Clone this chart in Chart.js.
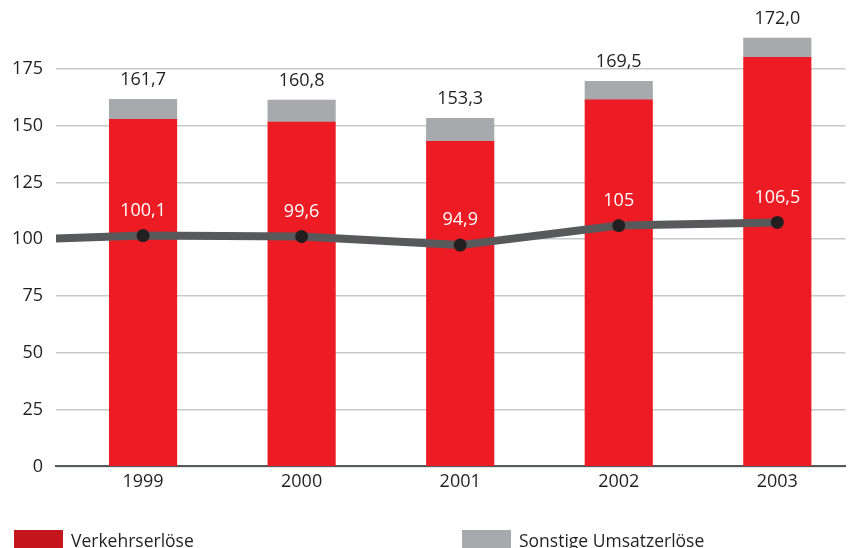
<!DOCTYPE html>
<html lang="de">
<head>
    <meta charset="UTF-8">
    <title>Umsatzerlöse 1999–2003</title>
    <script src="https://cdn.jsdelivr.net/npm/chart.js"></script>
    <style>
        body {
            margin: 0;
            background: #fff;
            font-family: 'Open Sans', sans-serif;
            color: #231f20;
        }
        .wrap {
            position: relative;
            width: 852px;
            height: 548px;
            overflow: hidden;
        }
        .legend-item {
            position: absolute;
            top: 530px;
            font-size: 17.5px;
            line-height: 20px;
            white-space: nowrap;
        }
        .legend-item span {
            display: inline-block;
            width: 49px;
            height: 20px;
            vertical-align: top;
            margin-right: 8px;
        }
    </style>
</head>
<body>
    <div class="wrap">
        <canvas id="umsatzChart"></canvas>
        <div class="legend-item" style="left:14px"><span style="background:#c4161c"></span>Verkehrserlöse</div>
        <div class="legend-item" style="left:462px"><span style="background:#a7a9ac"></span>Sonstige Umsatzerlöse</div>
    </div>

    <script>
        // Werte
        const years = ['1999', '2000', '2001', '2002', '2003'];
        const verkehrserloese = [152.8, 151.5, 143.1, 161.3, 180.1];
        const sonstigeErloese = [8.8, 9.7, 10.1, 8.2, 8.4];
        const totalLabels = ['161,7', '160,8', '153,3', '169,5', '172,0'];
        const indexValues = [101.6, 101.2, 97.4, 106.0, 107.4];
        const indexLabels = ['100,1', '99,6', '94,9', '105', '106,5'];
        const indexStart = 100.3;   // Linie beginnt am linken Achsenrand
        const yMax = 200;
        const yLastTick = 175;
        const xMin = -0.549;
        const xMax = 4.43;

        const barData = vals => vals.map((v, i) => ({ x: i, y: v }));
        const lineData = [{ x: xMin, y: indexStart }].concat(indexValues.map((v, i) => ({ x: i, y: v })));

        const labelPlugin = {
            id: 'labels',
            afterDatasetsDraw(chart) {
                const ctx = chart.ctx;
                ctx.save();
                ctx.font = '18px "Open Sans", sans-serif';
                ctx.textAlign = 'center';
                ctx.textBaseline = 'middle';
                const top = chart.getDatasetMeta(2);
                ctx.fillStyle = '#231f20';
                top.data.forEach((bar, i) => ctx.fillText(totalLabels[i], bar.x, bar.y - 19));
                const line = chart.getDatasetMeta(0);
                ctx.fillStyle = '#ffffff';
                indexLabels.forEach((t, i) => {
                    const p = line.data[i + 1];
                    ctx.fillText(t, p.x, p.y - 25);
                });
                ctx.restore();
            }
        };

        const ctx = document.getElementById('umsatzChart').getContext('2d');
        new Chart(ctx, {
            data: {
                datasets: [
                    {
                        type: 'line',
                        label: 'Index',
                        data: lineData,
                        stack: 'index',
                        borderColor: '#58595b',
                        borderWidth: 8,
                        borderCapStyle: 'round',
                        borderJoinStyle: 'round',
                        tension: 0,
                        pointRadius: lineData.map((_, i) => i === 0 ? 0 : 6.5),
                        pointBackgroundColor: '#231f20',
                        pointBorderWidth: 0,
                        order: 0
                    },
                    {
                        type: 'bar',
                        label: 'Verkehrserlöse',
                        data: barData(verkehrserloese),
                        backgroundColor: '#ed1c24',
                        barThickness: 67.5,
                        order: 1
                    },
                    {
                        type: 'bar',
                        label: 'Sonstige Umsatzerlöse',
                        data: barData(sonstigeErloese),
                        backgroundColor: '#a7a9ac',
                        barThickness: 67.5,
                        order: 1
                    }
                ]
            },
            options: {
                responsive: true,
                maintainAspectRatio: false,
                animation: false,
                layout: { padding: { top: 12, right: 0, bottom: 50, left: 0 } },
                plugins: {
                    legend: { display: false },
                    tooltip: { enabled: false }
                },
                scales: {
                    x: {
                        type: 'linear',
                        stacked: true,
                        offset: false,
                        min: xMin,
                        max: xMax,
                        afterBuildTicks: scale => { scale.ticks = years.map((_, i) => ({ value: i })); },
                        grid: { display: false, drawTicks: false },
                        border: { display: true, color: '#58595b', width: 2 },
                        ticks: {
                            padding: 5,
                            color: '#231f20',
                            font: { family: 'Open Sans', size: 18 },
                            callback: v => years[v]
                        }
                    },
                    y: {
                        stacked: true,
                        min: 0,
                        max: yMax,
                        afterBuildTicks: scale => { scale.ticks = scale.ticks.filter(t => t.value <= yLastTick); },
                        afterFit: scale => { scale.width = 56; scale.paddingTop = 0; },
                        grid: { color: '#c8c9cb', lineWidth: 1.5, drawTicks: false },
                        border: { display: false },
                        ticks: {
                            stepSize: 25,
                            padding: 13,
                            color: '#231f20',
                            font: { family: 'Open Sans', size: 18 }
                        }
                    }
                }
            },
            plugins: [labelPlugin]
        });
    </script>
</body>
</html>
